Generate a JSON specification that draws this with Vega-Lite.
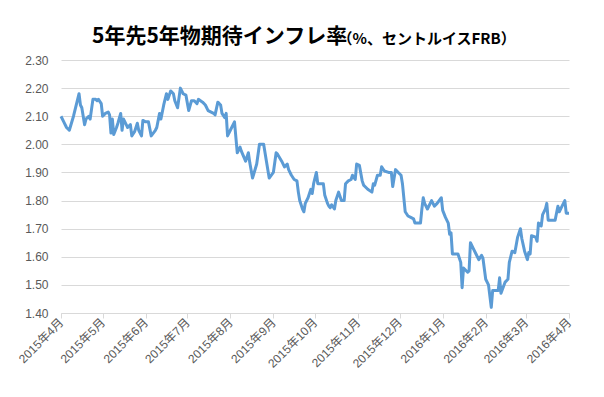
{
  "$schema": "https://vega.github.io/schema/vega-lite/v6.json",
  "width": 508,
  "height": 253,
  "autosize": {"type": "none"},
  "padding": {"left": 61, "top": 60, "right": 35, "bottom": 84},
  "background": "white",
  "title": {
    "text": "5年先5年物期待インフレ率",
    "anchor": "start",
    "frame": "group",
    "dx": 31,
    "offset": -33,
    "baseline": "alphabetic",
    "font": "Noto Sans CJK JP",
    "fontSize": 21,
    "fontWeight": "bold",
    "color": "#000000"
  },
  "config": {
    "view": {"stroke": null},
    "axis": {
      "labelFont": "Liberation Sans, Noto Sans CJK JP",
      "labelFontSize": 12,
      "labelColor": "#595959"
    }
  },
  "data": {
    "values": [
      {"date": "2015-04-01", "v": 2.10},
      {"date": "2015-04-03", "v": 2.08},
      {"date": "2015-04-05", "v": 2.06},
      {"date": "2015-04-07", "v": 2.05},
      {"date": "2015-04-10", "v": 2.10},
      {"date": "2015-04-12", "v": 2.14},
      {"date": "2015-04-14", "v": 2.18},
      {"date": "2015-04-15", "v": 2.14},
      {"date": "2015-04-16", "v": 2.13},
      {"date": "2015-04-18", "v": 2.07},
      {"date": "2015-04-19", "v": 2.09},
      {"date": "2015-04-21", "v": 2.10},
      {"date": "2015-04-22", "v": 2.09},
      {"date": "2015-04-24", "v": 2.16},
      {"date": "2015-04-26", "v": 2.16},
      {"date": "2015-04-27", "v": 2.155},
      {"date": "2015-04-28", "v": 2.16},
      {"date": "2015-04-30", "v": 2.145},
      {"date": "2015-05-01", "v": 2.10},
      {"date": "2015-05-03", "v": 2.11},
      {"date": "2015-05-05", "v": 2.115},
      {"date": "2015-05-06", "v": 2.105},
      {"date": "2015-05-07", "v": 2.04},
      {"date": "2015-05-08", "v": 2.09},
      {"date": "2015-05-09", "v": 2.035},
      {"date": "2015-05-11", "v": 2.06},
      {"date": "2015-05-12", "v": 2.075},
      {"date": "2015-05-14", "v": 2.11},
      {"date": "2015-05-15", "v": 2.05},
      {"date": "2015-05-16", "v": 2.09},
      {"date": "2015-05-18", "v": 2.07},
      {"date": "2015-05-19", "v": 2.06},
      {"date": "2015-05-21", "v": 2.07},
      {"date": "2015-05-22", "v": 2.03},
      {"date": "2015-05-24", "v": 2.045},
      {"date": "2015-05-26", "v": 2.075},
      {"date": "2015-05-27", "v": 2.05},
      {"date": "2015-05-29", "v": 2.03},
      {"date": "2015-05-30", "v": 2.085},
      {"date": "2015-06-01", "v": 2.08},
      {"date": "2015-06-03", "v": 2.08},
      {"date": "2015-06-05", "v": 2.03},
      {"date": "2015-06-08", "v": 2.05},
      {"date": "2015-06-09", "v": 2.06},
      {"date": "2015-06-11", "v": 2.11},
      {"date": "2015-06-12", "v": 2.09},
      {"date": "2015-06-14", "v": 2.14},
      {"date": "2015-06-16", "v": 2.18},
      {"date": "2015-06-17", "v": 2.16},
      {"date": "2015-06-19", "v": 2.19},
      {"date": "2015-06-21", "v": 2.18},
      {"date": "2015-06-22", "v": 2.155},
      {"date": "2015-06-24", "v": 2.13},
      {"date": "2015-06-26", "v": 2.20},
      {"date": "2015-06-28", "v": 2.18},
      {"date": "2015-06-30", "v": 2.175},
      {"date": "2015-07-02", "v": 2.12},
      {"date": "2015-07-04", "v": 2.155},
      {"date": "2015-07-06", "v": 2.155},
      {"date": "2015-07-08", "v": 2.145},
      {"date": "2015-07-09", "v": 2.16},
      {"date": "2015-07-12", "v": 2.15},
      {"date": "2015-07-14", "v": 2.14},
      {"date": "2015-07-16", "v": 2.12},
      {"date": "2015-07-20", "v": 2.11},
      {"date": "2015-07-21", "v": 2.105},
      {"date": "2015-07-23", "v": 2.15},
      {"date": "2015-07-25", "v": 2.14},
      {"date": "2015-07-26", "v": 2.11},
      {"date": "2015-07-28", "v": 2.095},
      {"date": "2015-07-29", "v": 2.11},
      {"date": "2015-07-30", "v": 2.03},
      {"date": "2015-08-01", "v": 2.05},
      {"date": "2015-08-04", "v": 2.08},
      {"date": "2015-08-06", "v": 1.97},
      {"date": "2015-08-08", "v": 1.99},
      {"date": "2015-08-09", "v": 1.975},
      {"date": "2015-08-12", "v": 1.94},
      {"date": "2015-08-14", "v": 1.97},
      {"date": "2015-08-15", "v": 1.935},
      {"date": "2015-08-17", "v": 1.88},
      {"date": "2015-08-20", "v": 1.93},
      {"date": "2015-08-22", "v": 2.00},
      {"date": "2015-08-25", "v": 2.00},
      {"date": "2015-08-27", "v": 1.94},
      {"date": "2015-08-29", "v": 1.88},
      {"date": "2015-09-01", "v": 1.90},
      {"date": "2015-09-03", "v": 1.97},
      {"date": "2015-09-04", "v": 1.965},
      {"date": "2015-09-07", "v": 1.94},
      {"date": "2015-09-09", "v": 1.92},
      {"date": "2015-09-11", "v": 1.93},
      {"date": "2015-09-12", "v": 1.91},
      {"date": "2015-09-14", "v": 1.89},
      {"date": "2015-09-16", "v": 1.875},
      {"date": "2015-09-18", "v": 1.87},
      {"date": "2015-09-19", "v": 1.83},
      {"date": "2015-09-20", "v": 1.80},
      {"date": "2015-09-22", "v": 1.77},
      {"date": "2015-09-23", "v": 1.76},
      {"date": "2015-09-24", "v": 1.79},
      {"date": "2015-09-26", "v": 1.81},
      {"date": "2015-09-28", "v": 1.84},
      {"date": "2015-09-29", "v": 1.825},
      {"date": "2015-09-30", "v": 1.86},
      {"date": "2015-10-02", "v": 1.90},
      {"date": "2015-10-03", "v": 1.86},
      {"date": "2015-10-07", "v": 1.86},
      {"date": "2015-10-08", "v": 1.82},
      {"date": "2015-10-10", "v": 1.79},
      {"date": "2015-10-11", "v": 1.78},
      {"date": "2015-10-12", "v": 1.775},
      {"date": "2015-10-13", "v": 1.785},
      {"date": "2015-10-15", "v": 1.77},
      {"date": "2015-10-16", "v": 1.80},
      {"date": "2015-10-18", "v": 1.83},
      {"date": "2015-10-19", "v": 1.815},
      {"date": "2015-10-20", "v": 1.80},
      {"date": "2015-10-22", "v": 1.80},
      {"date": "2015-10-23", "v": 1.86},
      {"date": "2015-10-25", "v": 1.87},
      {"date": "2015-10-27", "v": 1.875},
      {"date": "2015-10-28", "v": 1.89},
      {"date": "2015-10-30", "v": 1.875},
      {"date": "2015-10-31", "v": 1.93},
      {"date": "2015-11-02", "v": 1.925},
      {"date": "2015-11-04", "v": 1.87},
      {"date": "2015-11-05", "v": 1.855},
      {"date": "2015-11-06", "v": 1.85},
      {"date": "2015-11-08", "v": 1.84},
      {"date": "2015-11-11", "v": 1.83},
      {"date": "2015-11-12", "v": 1.86},
      {"date": "2015-11-13", "v": 1.855},
      {"date": "2015-11-15", "v": 1.89},
      {"date": "2015-11-17", "v": 1.89},
      {"date": "2015-11-18", "v": 1.92},
      {"date": "2015-11-20", "v": 1.905},
      {"date": "2015-11-23", "v": 1.90},
      {"date": "2015-11-25", "v": 1.90},
      {"date": "2015-11-26", "v": 1.85},
      {"date": "2015-11-27", "v": 1.88},
      {"date": "2015-11-28", "v": 1.91},
      {"date": "2015-11-30", "v": 1.90},
      {"date": "2015-12-02", "v": 1.89},
      {"date": "2015-12-03", "v": 1.86},
      {"date": "2015-12-05", "v": 1.76},
      {"date": "2015-12-07", "v": 1.745},
      {"date": "2015-12-09", "v": 1.74},
      {"date": "2015-12-11", "v": 1.735},
      {"date": "2015-12-12", "v": 1.72},
      {"date": "2015-12-14", "v": 1.72},
      {"date": "2015-12-16", "v": 1.72},
      {"date": "2015-12-17", "v": 1.77},
      {"date": "2015-12-18", "v": 1.81},
      {"date": "2015-12-19", "v": 1.79},
      {"date": "2015-12-21", "v": 1.77},
      {"date": "2015-12-24", "v": 1.80},
      {"date": "2015-12-26", "v": 1.78},
      {"date": "2015-12-28", "v": 1.79},
      {"date": "2015-12-31", "v": 1.81},
      {"date": "2016-01-01", "v": 1.765},
      {"date": "2016-01-03", "v": 1.74},
      {"date": "2016-01-05", "v": 1.72},
      {"date": "2016-01-06", "v": 1.68},
      {"date": "2016-01-07", "v": 1.685},
      {"date": "2016-01-08", "v": 1.61},
      {"date": "2016-01-12", "v": 1.61},
      {"date": "2016-01-14", "v": 1.58},
      {"date": "2016-01-15", "v": 1.49},
      {"date": "2016-01-16", "v": 1.56},
      {"date": "2016-01-19", "v": 1.545},
      {"date": "2016-01-20", "v": 1.55},
      {"date": "2016-01-21", "v": 1.65},
      {"date": "2016-01-23", "v": 1.63},
      {"date": "2016-01-25", "v": 1.61},
      {"date": "2016-01-27", "v": 1.59},
      {"date": "2016-01-29", "v": 1.605},
      {"date": "2016-01-30", "v": 1.595},
      {"date": "2016-02-01", "v": 1.52},
      {"date": "2016-02-03", "v": 1.50},
      {"date": "2016-02-05", "v": 1.42},
      {"date": "2016-02-06", "v": 1.48},
      {"date": "2016-02-10", "v": 1.48},
      {"date": "2016-02-11", "v": 1.525},
      {"date": "2016-02-12", "v": 1.47},
      {"date": "2016-02-15", "v": 1.51},
      {"date": "2016-02-17", "v": 1.52},
      {"date": "2016-02-18", "v": 1.58},
      {"date": "2016-02-20", "v": 1.62},
      {"date": "2016-02-22", "v": 1.615},
      {"date": "2016-02-24", "v": 1.67},
      {"date": "2016-02-26", "v": 1.70},
      {"date": "2016-02-27", "v": 1.665},
      {"date": "2016-02-29", "v": 1.62},
      {"date": "2016-03-02", "v": 1.59},
      {"date": "2016-03-03", "v": 1.615},
      {"date": "2016-03-04", "v": 1.61},
      {"date": "2016-03-05", "v": 1.675},
      {"date": "2016-03-08", "v": 1.67},
      {"date": "2016-03-09", "v": 1.655},
      {"date": "2016-03-10", "v": 1.72},
      {"date": "2016-03-12", "v": 1.71},
      {"date": "2016-03-13", "v": 1.75},
      {"date": "2016-03-15", "v": 1.77},
      {"date": "2016-03-16", "v": 1.79},
      {"date": "2016-03-17", "v": 1.73},
      {"date": "2016-03-22", "v": 1.73},
      {"date": "2016-03-24", "v": 1.78},
      {"date": "2016-03-25", "v": 1.76},
      {"date": "2016-03-27", "v": 1.78},
      {"date": "2016-03-29", "v": 1.80},
      {"date": "2016-03-30", "v": 1.755},
      {"date": "2016-04-01", "v": 1.755}
    ]
  },
  "mark": {"type": "line", "color": "#5B9BD5", "strokeWidth": 3, "strokeJoin": "round"},
  "encoding": {
    "x": {
      "field": "date",
      "type": "temporal",
      "scale": {
        "type": "utc",
        "domain": [
          {"year": 2015, "month": 4, "date": 1, "utc": true},
          {"year": 2016, "month": 4, "date": 1, "utc": true}
        ]
      },
      "axis": {
        "title": null,
        "grid": false,
        "values": [
          {"year": 2015, "month": 4, "date": 1, "utc": true},
          {"year": 2015, "month": 5, "date": 1, "utc": true},
          {"year": 2015, "month": 6, "date": 1, "utc": true},
          {"year": 2015, "month": 7, "date": 1, "utc": true},
          {"year": 2015, "month": 8, "date": 1, "utc": true},
          {"year": 2015, "month": 9, "date": 1, "utc": true},
          {"year": 2015, "month": 10, "date": 1, "utc": true},
          {"year": 2015, "month": 11, "date": 1, "utc": true},
          {"year": 2015, "month": 12, "date": 1, "utc": true},
          {"year": 2016, "month": 1, "date": 1, "utc": true},
          {"year": 2016, "month": 2, "date": 1, "utc": true},
          {"year": 2016, "month": 3, "date": 1, "utc": true},
          {"year": 2016, "month": 4, "date": 1, "utc": true}
        ],
        "labelExpr": "utcFormat(datum.value, '%Y年%-m月')",
        "labelAngle": -45,
        "labelAlign": "right",
        "labelBaseline": "middle",
        "labelPadding": 2,
        "labelOverlap": false,
        "labelBound": false,
        "labelFlush": false,
        "domainColor": "#D9D9D9",
        "domainWidth": 1,
        "tickColor": "#D9D9D9",
        "tickSize": 5
      }
    },
    "y": {
      "field": "v",
      "type": "quantitative",
      "scale": {"domain": [1.4, 2.3], "nice": false, "zero": false},
      "axis": {
        "values": [1.4, 1.5, 1.6, 1.7, 1.8, 1.9, 2.0, 2.1, 2.2, 2.3],
        "format": ".2f",
        "domain": false,
        "ticks": false,
        "labelPadding": 13,
        "gridColor": "#D9D9D9",
        "gridWidth": 1,
        "title": "（%、セントルイスFRB）",
        "titleAngle": 0,
        "titleX": 276,
        "titleY": -17,
        "titleAlign": "left",
        "titleBaseline": "alphabetic",
        "titleFont": "Noto Sans CJK JP",
        "titleFontSize": 15,
        "titleFontWeight": "bold",
        "titleColor": "#000000"
      }
    }
  }
}
